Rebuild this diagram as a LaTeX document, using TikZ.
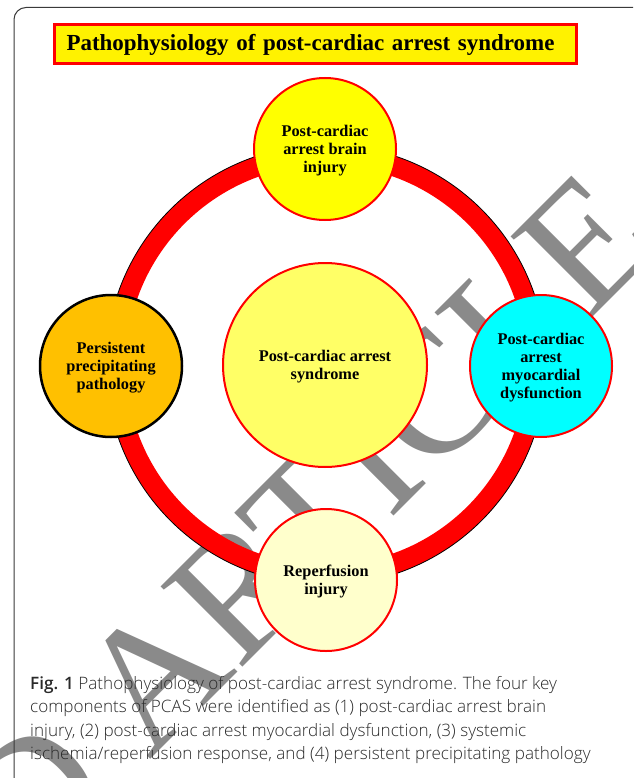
\documentclass[tikz,border=0pt]{standalone}
\usepackage{graphicx}
\usepackage{fontspec}
\setmainfont{Liberation Serif}
\newfontfamily\capfont{Open Sans Light}[BoldFont={Open Sans Semibold}]
\definecolor{wmgray}{HTML}{8A8A8A}
\definecolor{brainfill}{HTML}{FFFF00}
\definecolor{centerfill}{HTML}{FFFF66}
\definecolor{myofill}{HTML}{00FFFF}
\definecolor{persfill}{HTML}{FFC000}
\definecolor{reperfill}{HTML}{FFFFCC}
\definecolor{captext}{HTML}{2A2A2A}
\definecolor{framecol}{HTML}{3A3A3A}
\begin{document}
\begin{tikzpicture}[x=1pt,y=-1pt,
  bubble/.style={circle, draw=red, line width=2pt, inner sep=0pt, align=center,
    minimum size=142pt, text depth=0pt, font=\bfseries\fontsize{16.3}{18.2}\selectfont},
  capline/.style={anchor=base west, inner sep=0pt, text=captext,
    font=\capfont\fontsize{17.1}{20}\selectfont}
]
\useasboundingbox (0,0) rectangle (633,778);
\clip (0,0) rectangle (633,778);
\fill[white] (0,0) rectangle (633,778);
% watermark
\node[rotate=45, anchor=base west, inner sep=0pt, text=wmgray,
  font=\fontsize{175}{175}\selectfont] (wm) at (149,761) {\llap{RETRACTED\ }ARTICLE};
% frame
\draw[framecol, line width=1pt, rounded corners=12pt] (14,7.5) rectangle (680,830);
% title
\node[draw=red, fill=yellow, line width=3pt, minimum height=39pt, inner xsep=12pt, inner ysep=0pt,
  text width=498pt, align=left, anchor=west, font=\bfseries\fontsize{23.5}{26}\selectfont]
  (title) at (53,44.5) {\resizebox{488pt}{!}{Pathophysiology of post-cardiac arrest syndrome}};
% ring
\coordinate (ringc) at (326,365);
\fill[red, even odd rule] (ringc) circle (220) (ringc) circle (200);
\draw[black, line width=0.8pt] (ringc) circle (220);
% circles
\node[bubble, fill=centerfill, minimum size=204pt] (pcas) at (325,365) {Post-cardiac arrest\\syndrome};
\node[bubble, fill=brainfill] (brain) at (325,149) {Post-cardiac\\arrest brain\\injury};
\node[bubble, fill=myofill] (myo) at (541,366) {Post-cardiac\\arrest\\myocardial\\dysfunction};
\node[bubble, fill=persfill, draw=black, line width=2.5pt] (pers) at (111,366) {Persistent\\precipitating\\pathology};
\node[bubble, fill=reperfill] (reper) at (326,580) {Reperfusion\\injury};
% caption
\node[capline] (cap1) at (30,689) {\textbf{Fig. 1} Pathophysiology of post-cardiac arrest syndrome. The four key};
\node[capline] (cap2) at (30,712.5) {components of PCAS were identified as (1) post-cardiac arrest brain};
\node[capline] (cap3) at (30,736) {injury, (2) post-cardiac arrest myocardial dysfunction, (3) systemic};
\node[capline] (cap4) at (30,759.5) {ischemia/reperfusion response, and (4) persistent precipitating pathology};
\end{tikzpicture}
\end{document}
